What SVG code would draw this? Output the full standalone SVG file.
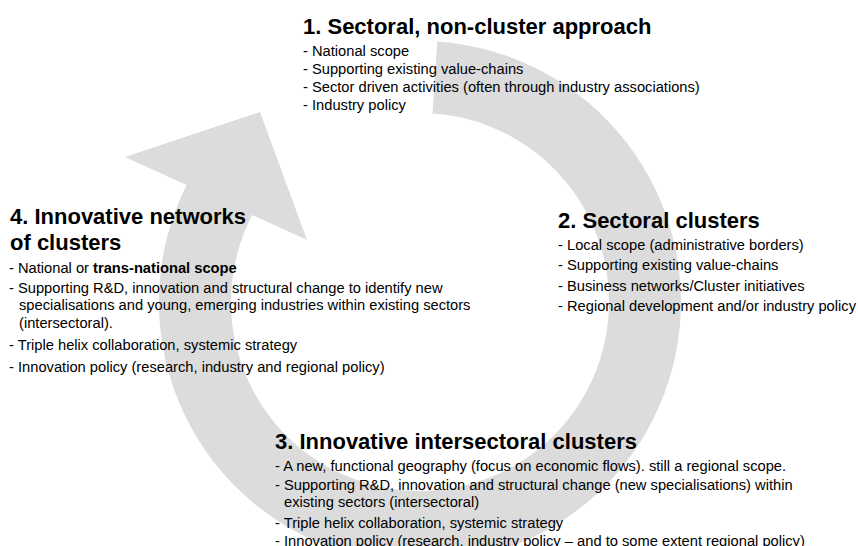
<svg xmlns="http://www.w3.org/2000/svg" width="858" height="546" viewBox="0 0 858 546">
<style>
.ttl{font-family:"Liberation Sans",Arial,sans-serif;font-size:22px;font-weight:bold;fill:#000}
.li{font-family:"Liberation Sans",Arial,sans-serif;font-size:14.7px;fill:#000}
.b{font-weight:bold}
.ring{fill:#dcdcdc;stroke:none}
</style>
<rect width="858" height="546" fill="#fff"/>
<g id="connectors">
<path class="ring" d="M437.3,41.6 A261,261 0 1 1 186.6,185.1 L125,157 L260,112 L307,240 L252.2,215 A189,189 0 1 0 432.5,113.4 Z"/>
</g>
<g id="node1">
<text class="ttl" x="303" y="34">1. Sectoral, non-cluster approach</text>
<text class="li" x="303" y="56">- National scope</text>
<text class="li" x="303" y="74">- Supporting existing value-chains</text>
<text class="li" x="303" y="92">- Sector driven activities (often through industry associations)</text>
<text class="li" x="303" y="110">- Industry policy</text>
</g>
<g id="node2">
<text class="ttl" x="558" y="228">2. Sectoral clusters</text>
<text class="li" x="558" y="250">- Local scope (administrative borders)</text>
<text class="li" x="558" y="270">- Supporting existing value-chains</text>
<text class="li" x="558" y="290.5">- Business networks/Cluster initiatives</text>
<text class="li" x="558" y="311">- Regional development and/or industry policy</text>
</g>
<g id="node3">
<text class="ttl" x="275" y="449">3. Innovative intersectoral clusters</text>
<text class="li" x="275" y="471">- A new, functional geography (focus on economic flows). still a regional scope.</text>
<text class="li" x="275" y="490.4">- Supporting R&amp;D, innovation and structural change (new specialisations) within</text>
<text class="li" x="284" y="506.7">existing sectors (intersectoral)</text>
<text class="li" x="275" y="527.6">- Triple helix collaboration, systemic strategy</text>
<text class="li" x="275" y="546">- Innovation policy (research, industry policy – and to some extent regional policy)</text>
</g>
<g id="node4">
<text class="ttl" x="10" y="223.5">4. Innovative networks</text>
<text class="ttl" x="10" y="250">of clusters</text>
<text class="li" x="9" y="273.3">- National or <tspan class="b">trans-national scope</tspan></text>
<text class="li" x="9" y="292.7">- Supporting R&amp;D, innovation and structural change to identify new</text>
<text class="li" x="19" y="310.2">specialisations and young, emerging industries within existing sectors</text>
<text class="li" x="19" y="328">(intersectoral).</text>
<text class="li" x="9" y="349.5">- Triple helix collaboration, systemic strategy</text>
<text class="li" x="9" y="371.5">- Innovation policy (research, industry and regional policy)</text>
</g>
</svg>
